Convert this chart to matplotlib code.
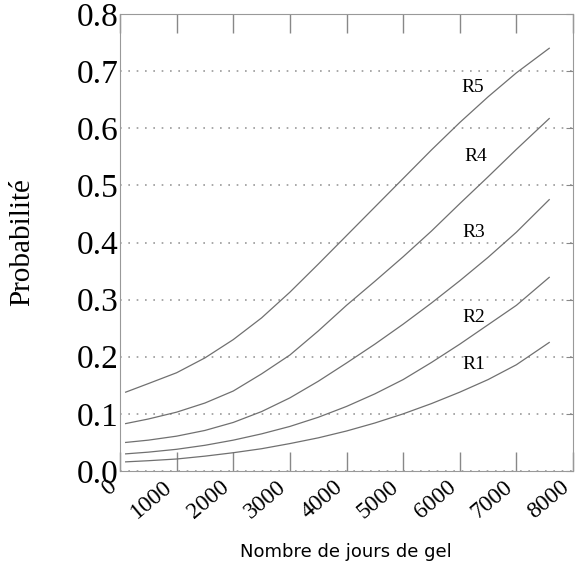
import matplotlib
matplotlib.use("Agg")
import matplotlib.pyplot as plt

# jours de gel
jours = [100, 500, 1000, 1500, 2000, 2500, 3000, 3500, 4000,
         4500, 5000, 5500, 6000, 6500, 7000, 7580]

# probabilités par classe
r1 = [0.016, 0.018, 0.021, 0.026, 0.032, 0.039, 0.048, 0.058, 0.070,
      0.084, 0.100, 0.118, 0.138, 0.160, 0.186, 0.225]
r2 = [0.030, 0.033, 0.038, 0.045, 0.054, 0.065, 0.078, 0.094, 0.113,
      0.135, 0.160, 0.190, 0.222, 0.256, 0.290, 0.339]
r3 = [0.050, 0.054, 0.061, 0.071, 0.085, 0.104, 0.128, 0.157, 0.189,
      0.222, 0.257, 0.294, 0.333, 0.374, 0.418, 0.475]
r4 = [0.083, 0.091, 0.103, 0.119, 0.140, 0.170, 0.203, 0.245, 0.290,
      0.332, 0.375, 0.420, 0.468, 0.515, 0.563, 0.617]
r5 = [0.138, 0.153, 0.172, 0.198, 0.230, 0.268, 0.313, 0.362, 0.412,
      0.462, 0.512, 0.562, 0.610, 0.655, 0.697, 0.740]

noms = ["R1", "R2", "R3", "R4", "R5"]
pos_nom = [(6240, 0.187), (6240, 0.269), (6250, 0.418), (6280, 0.550), (6220, 0.672)]

yticks = [0.0, 0.1, 0.2, 0.3, 0.4, 0.5, 0.6, 0.7, 0.8]
xticks = [0, 1000, 2000, 3000, 4000, 5000, 6000, 7000, 8000]

serif = "Liberation Serif"

fig = plt.figure(figsize=(5.75, 5.66), dpi=100)
ax = fig.add_axes([120 / 575, 1 - 471 / 566, 453 / 575, 457 / 566])

for serie in [r1, r2, r3, r4, r5]:
    ax.plot(jours, serie, color="#707070", lw=0.9)

for nom, (x, y) in zip(noms, pos_nom):
    ax.text(x, y, nom, fontsize=14, family=serif, ha="center", va="center")

ax.set_xlim(0, 8000)
ax.set_ylim(0, 0.8)
ax.set_yticks(yticks)
ax.set_yticklabels(["%.1f" % v for v in yticks], fontsize=24, family=serif)
ax.set_xticks(xticks)
# coin haut-droit de la boîte tournée au niveau du tick
ax.set_xticklabels([str(v) for v in xticks], fontsize=17, family=serif,
                   rotation=40, ha="right", va="top", rotation_mode="default")

ax.yaxis.grid(True, linestyle=(0, (1, 4)), color="#999999", lw=1.2)
ax.tick_params(axis="x", direction="in", length=14, top=True, color="#888888",
               width=1.0, pad=4)
ax.tick_params(axis="y", direction="in", length=5, right=True, left=False,
               color="#888888", pad=1)
for s in ax.spines.values():
    s.set_color("#999999")

ax.set_ylabel("Probabilité", fontsize=21, family=serif, labelpad=30)
fig.text(346 / 575, 1 - 557 / 566, "Nombre de jours de gel", fontsize=13,
         ha="center", va="baseline", family="DejaVu Sans")

fig.savefig("out.png", dpi=100)
